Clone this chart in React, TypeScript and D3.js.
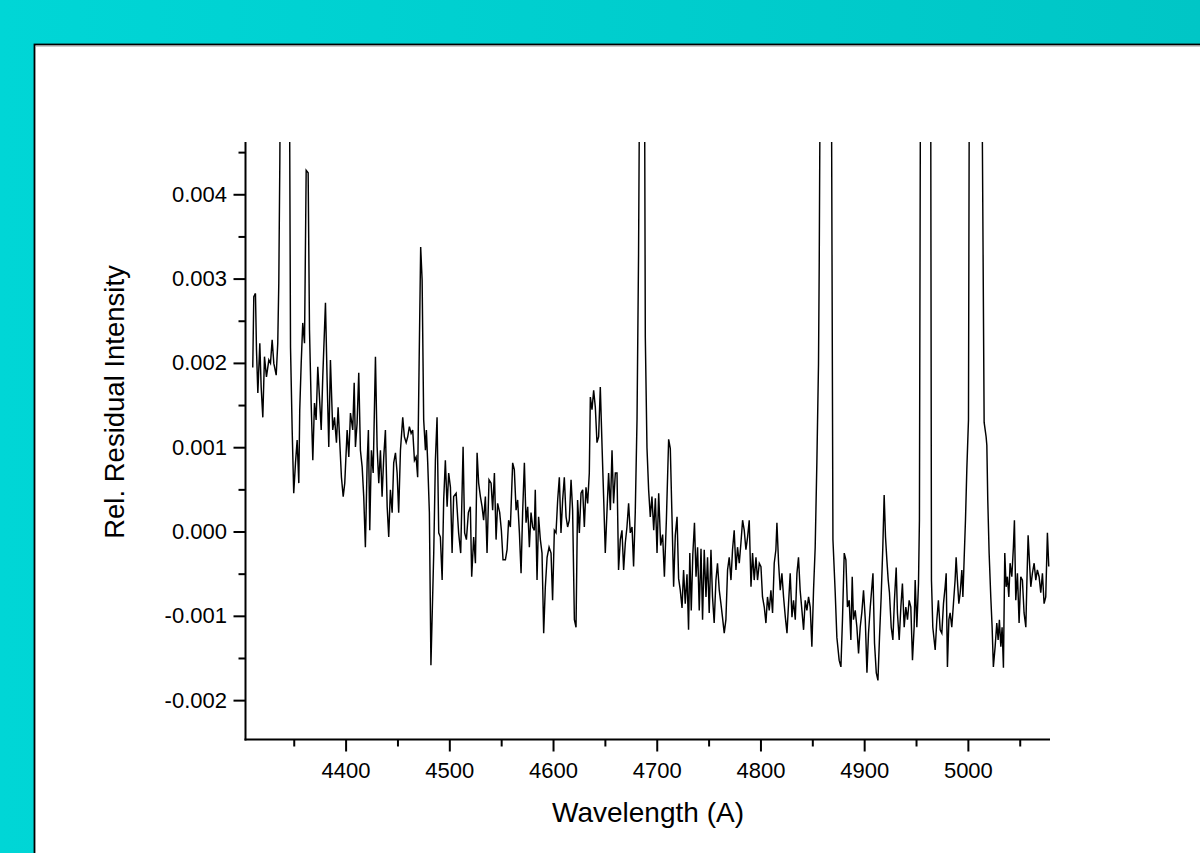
import React from "react";
import * as d3 from "d3";

// Wavelength (Angstrom) of each sample
const wavelength = [
  4310.0, 4311.0, 4312.6, 4313.6, 4314.9, 4316.8, 4318.1, 4319.7, 4321.3, 4323.2,
  4325.5, 4327.1, 4328.7, 4330.3, 4332.6, 4334.1, 4335.1, 4336.1, 4337.2, 4341.1,
  4345.2, 4346.4, 4348.0, 4349.5, 4351.2, 4352.8, 4354.4, 4355.3, 4356.7, 4358.2,
  4359.9, 4361.5, 4363.4, 4364.7, 4366.3, 4367.9, 4369.5, 4371.1, 4372.7, 4374.3,
  4376.0, 4377.5, 4380.1, 4381.7, 4383.3, 4384.9, 4387.1, 4388.8, 4390.7, 4392.3,
  4393.9, 4395.5, 4397.2, 4398.7, 4401.0, 4402.6, 4404.2, 4406.4, 4407.8, 4409.0,
  4410.6, 4412.2, 4413.8, 4415.5, 4417.0, 4418.6, 4420.3, 4421.5, 4422.8, 4424.4,
  4426.1, 4428.3, 4429.9, 4431.5, 4433.1, 4434.7, 4436.3, 4437.9, 4439.6, 4441.1,
  4442.7, 4444.4, 4445.9, 4447.6, 4449.2, 4450.7, 4452.4, 4454.6, 4456.2, 4457.9,
  4459.4, 4461.0, 4462.7, 4464.2, 4465.9, 4467.5, 4469.0, 4470.4, 4471.9, 4473.3,
  4474.8, 4476.5, 4477.4, 4478.7, 4480.3, 4481.8, 4484.5, 4486.1, 4487.7, 4489.3,
  4490.9, 4492.6, 4494.1, 4495.7, 4497.4, 4498.9, 4500.6, 4502.2, 4503.7, 4506.1,
  4508.5, 4510.5, 4512.8, 4514.3, 4516.0, 4517.9, 4519.8, 4521.1, 4523.0, 4524.7,
  4526.3, 4527.8, 4529.5, 4531.1, 4532.6, 4534.3, 4535.9, 4537.8, 4539.8, 4541.3,
  4543.0, 4544.6, 4546.1, 4548.1, 4549.7, 4551.3, 4553.6, 4555.2, 4556.7, 4558.4,
  4560.6, 4562.2, 4563.9, 4565.4, 4567.1, 4568.7, 4570.2, 4571.9, 4573.5, 4575.1,
  4576.7, 4578.3, 4579.9, 4581.5, 4582.4, 4584.1, 4585.6, 4587.3, 4588.9, 4590.5,
  4592.1, 4593.8, 4595.7, 4597.6, 4599.1, 4600.8, 4602.4, 4604.0, 4605.6, 4607.2,
  4608.8, 4610.4, 4612.1, 4613.6, 4615.2, 4616.9, 4618.4, 4620.1, 4621.7, 4623.2,
  4624.9, 4626.5, 4628.1, 4629.7, 4631.3, 4632.9, 4634.5, 4635.5, 4637.1, 4638.7,
  4640.3, 4641.9, 4643.5, 4645.1, 4646.8, 4648.3, 4649.9, 4651.6, 4653.1, 4654.8,
  4656.4, 4657.9, 4659.6, 4661.2, 4662.7, 4664.4, 4666.0, 4667.6, 4669.2, 4670.8,
  4672.4, 4674.0, 4675.7, 4677.2, 4678.8, 4680.5, 4682.0, 4683.7, 4685.6, 4687.5,
  4688.5, 4690.1, 4691.7, 4693.3, 4694.9, 4696.6, 4698.2, 4699.8, 4701.4, 4703.3,
  4705.2, 4706.9, 4708.8, 4711.0, 4712.6, 4714.3, 4715.8, 4717.4, 4719.1, 4720.6,
  4722.2, 4723.9, 4725.4, 4727.0, 4728.7, 4730.2, 4731.4, 4732.8, 4734.3, 4735.9,
  4737.4, 4738.9, 4740.5, 4742.2, 4743.7, 4745.3, 4747.0, 4748.5, 4750.1, 4751.8,
  4753.3, 4754.9, 4756.6, 4758.1, 4759.8, 4761.4, 4762.9, 4764.6, 4766.2, 4767.8,
  4769.4, 4771.1, 4772.6, 4774.2, 4775.9, 4777.4, 4779.1, 4780.7, 4782.3, 4783.9,
  4785.5, 4787.1, 4788.7, 4790.4, 4791.9, 4793.5, 4795.2, 4796.7, 4798.4, 4800.0,
  4801.5, 4803.2, 4804.8, 4806.3, 4808.0, 4809.6, 4811.2, 4812.8, 4814.4, 4815.4,
  4817.0, 4818.6, 4820.2, 4821.8, 4823.5, 4825.1, 4826.6, 4828.2, 4829.9, 4831.4,
  4833.1, 4834.7, 4836.2, 4837.8, 4839.5, 4841.1, 4842.7, 4844.3, 4845.9, 4847.5,
  4849.1, 4850.7, 4852.3, 4853.9, 4855.5, 4856.2, 4858.1, 4862.0, 4866.6, 4867.8,
  4869.4, 4871.6, 4873.2, 4875.4, 4877.1, 4878.6, 4880.3, 4881.9, 4883.4, 4885.1,
  4886.7, 4888.0, 4889.2, 4890.9, 4892.5, 4894.1, 4895.7, 4897.3, 4898.9, 4900.6,
  4902.2, 4903.7, 4905.4, 4908.0, 4909.5, 4911.2, 4912.8, 4914.3, 4915.9, 4917.5,
  4918.8, 4920.1, 4921.4, 4922.7, 4923.9, 4925.6, 4927.2, 4928.7, 4930.4, 4931.6,
  4933.3, 4934.9, 4936.4, 4938.1, 4939.7, 4941.3, 4942.9, 4944.5, 4946.1, 4947.7,
  4948.7, 4950.3, 4951.9, 4952.8, 4953.9, 4958.8, 4963.6, 4964.4, 4965.7, 4968.0,
  4969.6, 4971.1, 4972.8, 4974.4, 4976.0, 4977.6, 4978.6, 4979.8, 4981.2, 4982.4,
  4984.0, 4985.6, 4987.2, 4988.2, 4989.4, 4990.8, 4992.1, 4993.7, 4994.7, 4995.9,
  4997.2, 4998.5, 5000.1, 5001.2, 5007.0, 5012.8, 5015.2, 5017.1, 5017.8, 5018.7,
  5020.0, 5021.6, 5022.9, 5024.1, 5025.8, 5027.4, 5028.7, 5029.9, 5031.3, 5032.5,
  5033.8, 5035.1, 5036.4, 5037.6, 5039.0, 5040.2, 5041.9, 5043.4, 5044.4, 5045.7,
  5047.3, 5048.9, 5050.5, 5052.1, 5053.7, 5055.4, 5056.3, 5057.6, 5058.8, 5060.2,
  5061.7, 5063.4, 5065.0, 5066.5, 5068.2, 5069.8, 5071.4, 5073.0, 5074.6, 5076.2,
  5077.5,
];

// Relative residual intensity, in units of 1e-3
const intensityMilli = [
  1.95, 2.79, 2.83, 2.16, 1.65, 2.24, 1.72, 1.36, 2.08, 1.84,
  2.04, 2.0, 2.28, 2.0, 1.86, 2.24, 2.95, 4.38, 7.0, 12.0,
  6.0, 2.19, 1.21, 0.46, 0.82, 1.09, 0.58, 1.45, 2.0, 2.48,
  2.24, 4.29, 4.26, 2.4, 1.53, 0.85, 1.53, 1.33, 1.96, 1.6,
  1.21, 1.84, 2.72, 1.8, 1.01, 2.04, 1.21, 1.36, 1.06, 1.48,
  1.06, 0.65, 0.42, 0.58, 1.21, 0.89, 1.41, 1.21, 1.77, 1.01,
  1.29, 1.89, 0.97, 0.77, 0.42, -0.18, 0.82, 1.21, 0.02, 0.97,
  0.7, 2.08, 1.01, 0.58, 0.97, 0.42, 0.89, 1.21, 0.3, -0.06,
  0.5, 0.23, 0.82, 0.94, 0.7, 0.23, 0.97, 1.36, 1.13, 1.06,
  1.13, 1.25, 1.17, 1.21, 0.85, 0.89, 0.65, 2.0, 3.38, 2.99,
  1.33, 0.97, 1.21, 0.82, 0.23, -1.58, -0.25, 0.85, 1.36, -0.01,
  -0.06, -0.57, 0.38, 0.85, 0.3, 0.7, 0.53, -0.25, 0.42, 0.46,
  -0.01, -0.25, 1.01, -0.01, -0.09, 0.23, 0.3, -0.53, -0.06, -0.37,
  0.94, 0.58, 0.42, 0.3, 0.14, 0.42, -0.25, 0.62, 0.58, 0.26,
  0.7, -0.09, 0.34, 0.23, 0.02, -0.33, -0.33, -0.21, 0.14, 0.06,
  0.82, 0.74, 0.26, 0.38, -0.01, -0.49, 0.23, 0.82, 0.11, 0.3,
  -0.18, 0.23, 0.06, 0.02, 0.5, -0.57, 0.18, -0.09, -0.25, -1.2,
  -0.65, -0.3, -0.18, -0.25, -0.81, 0.02, -0.01, 0.38, 0.65, -0.01,
  0.38, 0.65, 0.18, 0.06, 0.14, 0.62, 0.26, -1.04, -1.13, 0.38,
  -0.01, 0.46, 0.5, 0.06, 0.53, 0.34, 0.7, 1.6, 1.45, 1.68,
  1.48, 1.06, 1.13, 1.72, 1.01, 0.42, -0.25, 0.26, 0.7, 0.26,
  0.97, 0.34, 0.7, 0.7, -0.45, -0.09, 0.02, -0.45, -0.13, 0.06,
  0.34, -0.01, 0.06, -0.41, 0.23, 1.33, 3.31, 7.0, 10.0, 6.5,
  2.31, 1.0, 0.5, 0.18, 0.42, 0.02, 0.4, -0.25, 0.46, -0.16,
  -0.03, -0.53, 0.14, 1.1, 0.99, 0.14, -0.65, -0.04, 0.18, -0.55,
  -0.69, -0.9, -0.45, -0.85, -0.5, -1.16, -0.25, -0.93, -0.27, 0.11,
  -0.53, -0.18, -0.93, -0.2, -1.04, -0.21, -0.77, -0.3, -0.96, -0.21,
  -0.77, -1.08, -0.57, -0.37, -0.69, -0.85, -1.01, -1.2, -1.04, -0.45,
  -0.3, -0.57, -0.21, 0.02, -0.45, -0.18, -0.37, -0.13, 0.14, 0.02,
  -0.21, -0.06, 0.14, -0.65, -0.25, -0.57, -0.3, -0.57, -0.37, -0.41,
  -0.77, -0.89, -1.08, -0.77, -0.93, -0.69, -0.96, -0.37, -0.21, 0.11,
  -0.37, -0.69, -0.49, -0.77, -1.01, -1.2, -0.85, -0.49, -1.01, -0.81,
  -1.04, -0.49, -0.3, -0.69, -0.93, -1.16, -0.81, -0.93, -0.77, -0.89,
  -1.36, -0.69, -0.18, 0.82, 2.0, 3.2, 8.0, 15.0, 8.0, 6.0,
  -0.09, -0.72, -1.25, -1.52, -1.6, -1.04, -0.25, -0.33, -0.89, -0.81,
  -1.28, -0.53, -1.04, -0.93, -1.13, -1.44, -1.13, -0.95, -0.69, -1.04,
  -1.67, -1.2, -0.89, -0.49, -1.32, -1.67, -1.76, -1.25, -0.77, -0.18,
  0.44, -0.06, -0.33, -0.57, -0.72, -1.13, -1.28, -0.81, -0.42, -0.96,
  -1.28, -0.89, -0.61, -1.13, -0.89, -1.04, -0.81, -0.89, -1.52, -1.13,
  -0.57, -1.13, -0.61, 0.14, 6.0, 14.0, 6.0, -0.57, -1.13, -1.4,
  -1.04, -0.81, -1.16, -1.2, -0.85, -0.65, -0.49, -1.6, -1.04, -0.96,
  -1.13, -0.85, -0.57, -0.3, -0.57, -0.85, -0.72, -0.45, -0.77, -0.33,
  0.14, 0.74, 1.33, 7.0, 25.0, 6.0, 1.3, 1.13, 1.03, 0.38,
  -0.25, -0.77, -1.13, -1.6, -1.36, -1.08, -1.28, -1.04, -1.36, -1.13,
  -1.61, -0.25, -0.65, -0.53, -0.77, -0.37, -0.53, -0.18, 0.14, -0.81,
  -0.49, -1.08, -0.53, -0.57, -0.96, -1.13, -0.65, -0.04, -0.33, -0.65,
  -0.49, -0.37, -0.57, -0.45, -0.53, -0.72, -0.49, -0.85, -0.77, -0.01,
  -0.41,
];

const xMajorTicks = [4400, 4500, 4600, 4700, 4800, 4900, 5000];
const xMinorTicks = [4350, 4450, 4550, 4650, 4750, 4850, 4950, 5050];
const yMajorTicks = [-0.002, -0.001, 0, 0.001, 0.002, 0.003, 0.004];
const yMinorTicks = [-0.0015, -0.0005, 0.0005, 0.0015, 0.0025, 0.0035, 0.0045];
const xDomain = [4303, 5078.7];
const yDomain = [-0.002461, 0.004626];
const xTitle = "Wavelength (A)";
const yTitle = "Rel. Residual Intensity";

export default function App() {
  const W = 1200;
  const H = 853;
  const left = 245.5;
  const right = 1050;
  const top = 142;
  const bottom = 739.5;
  const x = d3.scaleLinear().domain(xDomain).range([left, right]);
  const y = d3.scaleLinear().domain(yDomain).range([bottom, top]);
  const pts = wavelength.map((w, i) => ({ w, v: intensityMilli[i] * 1e-3 }));
  const line = d3
    .line<{ w: number; v: number }>()
    .x((d) => x(d.w))
    .y((d) => y(d.v));
  const font = "'Liberation Sans', Arial, Helvetica, sans-serif";
  const fmt = (v: number) => (Math.abs(v) < 1e-12 ? "0.000" : v.toFixed(3));

  return (
    <svg
      width={W}
      height={H}
      viewBox={`0 0 ${W} ${H}`}
      style={{ position: "absolute", left: 0, top: 0, display: "block" }}
    >
      <defs>
        <linearGradient id="bg" x1="0" y1="0" x2="1" y2="0">
          <stop offset="0" stopColor="#00d6d6" />
          <stop offset="1" stopColor="#00c6c6" />
        </linearGradient>
        <clipPath id="plotclip">
          <rect x={left} y={top} width={right - left} height={bottom - top} />
        </clipPath>
      </defs>
      <rect x={0} y={0} width={W} height={H} fill="url(#bg)" />
      <rect x={34.5} y={44.5} width={W} height={H} fill="#ffffff" stroke="#000" strokeWidth={1.8} />
      <line x1={36} x2={W} y1={46} y2={46} stroke="#9a9a9a" strokeWidth={1} />

      <path
        d={line(pts) || ""}
        fill="none"
        stroke="#000"
        strokeWidth={1.45}
        strokeLinejoin="miter"
        clipPath="url(#plotclip)"
      />

      {/* axes */}
      <line x1={left} x2={left} y1={top} y2={bottom + 1} stroke="#000" strokeWidth={2} />
      <line x1={left - 1} x2={right} y1={bottom} y2={bottom} stroke="#000" strokeWidth={2} />

      {yMajorTicks.map((t) => (
        <g key={"ym" + t}>
          <line x1={left - 12} x2={left} y1={y(t)} y2={y(t)} stroke="#000" strokeWidth={2} />
          <text
            x={227}
            y={y(t) + 7}
            textAnchor="end"
            fontFamily={font}
            fontSize={22}
            fill="#000"
          >
            {fmt(t)}
          </text>
        </g>
      ))}
      {yMinorTicks.map((t) => (
        <line key={"yn" + t} x1={left - 7} x2={left} y1={y(t)} y2={y(t)} stroke="#000" strokeWidth={2} />
      ))}

      {xMajorTicks.map((t) => (
        <g key={"xm" + t}>
          <line x1={x(t)} x2={x(t)} y1={bottom} y2={bottom + 12} stroke="#000" strokeWidth={2} />
          <text
            x={x(t)}
            y={777.5}
            textAnchor="middle"
            fontFamily={font}
            fontSize={22}
            fill="#000"
          >
            {t}
          </text>
        </g>
      ))}
      {xMinorTicks.map((t) => (
        <line key={"xn" + t} x1={x(t)} x2={x(t)} y1={bottom} y2={bottom + 7} stroke="#000" strokeWidth={2} />
      ))}

      <text x={648} y={822} textAnchor="middle" fontFamily={font} fontSize={28} fill="#000">
        {xTitle}
      </text>
      <text
        transform="translate(123.5,402) rotate(-90)"
        textAnchor="middle"
        fontFamily={font}
        fontSize={27.5}
        fill="#000"
      >
        {yTitle}
      </text>
    </svg>
  );
}
